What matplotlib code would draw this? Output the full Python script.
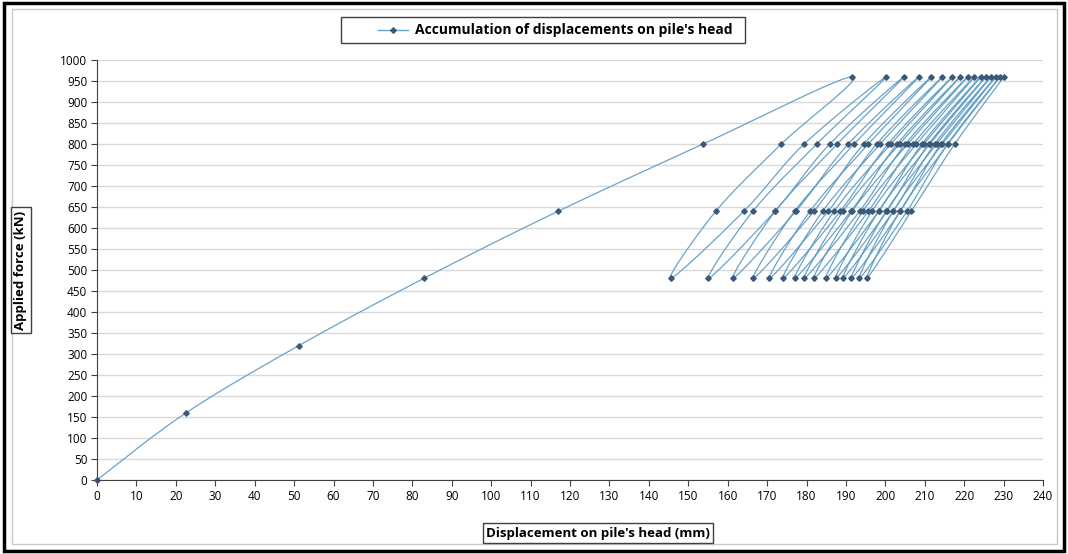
import matplotlib
matplotlib.use("Agg")
import matplotlib.pyplot as plt
from matplotlib.patches import Rectangle
import numpy as np

# initial loading (mm, kN)
load_disp = [0, 22.6, 51.2, 82.9, 117.0, 153.8, 191.6]
load_force = [0, 160, 320, 480, 640, 800, 960]

# cycles 960 -> 480 -> 960
peaks = [191.6, 200.2, 204.7, 208.5, 211.7, 214.5, 217.0, 219.0, 220.9, 222.6,
         224.2, 225.5, 226.8, 228.0, 229.1, 230.1]
valleys = [145.5, 155.1, 161.3, 166.5, 170.6, 174.0, 177.0, 179.4, 181.9, 184.9,
           187.4, 189.2, 191.4, 193.4, 195.3]
unload_800 = [173.6, 182.6, 187.8, 192.1, 195.7, 198.7, 201.4, 203.6, 205.7, 207.9,
              209.8, 211.3, 213.0, 214.5, 215.9]
unload_640 = [157.0, 166.4, 172.1, 177.0, 180.9, 184.1, 187.0, 189.3, 191.6, 194.3,
              196.6, 198.3, 200.2, 202.0, 203.7]
reload_640 = [164.1, 172.0, 177.3, 181.9, 185.5, 188.6, 191.3, 193.5, 195.7, 198.3,
              200.4, 202.0, 203.8, 205.5, 206.6]
reload_800 = [179.4, 185.9, 190.6, 194.5, 197.8, 200.7, 203.0, 205.1, 207.1, 209.3,
              211.0, 212.5, 214.1, 215.8, 217.6]

xs = list(load_disp)
ys = list(load_force)
for i in range(len(valleys)):
    xs += [unload_800[i], unload_640[i], valleys[i], reload_640[i], reload_800[i], peaks[i + 1]]
    ys += [800, 640, 480, 640, 800, 960]

line_col = "#6aa3c8"
mark_col = "#3b5878"

fig = plt.figure(figsize=(10.68, 5.54), dpi=100)
fig.patches.append(Rectangle((0.004, 0.006), 0.992, 0.988, transform=fig.transFigure,
                             fill=False, edgecolor="black", linewidth=2.5))
fig.patches.append(Rectangle((0.011, 0.018), 0.979, 0.966, transform=fig.transFigure,
                             fill=False, edgecolor="#c8c8c8", linewidth=1))

ax = fig.add_axes([97 / 1068, 1 - 480 / 554, 946 / 1068, 420 / 554])
ax.set_xlim(0, 240)
ax.set_ylim(0, 1000)
ax.set_xticks(np.arange(0, 241, 10))
ax.set_yticks(np.arange(0, 1001, 50))
ax.yaxis.grid(True, color="#d9d9d9", linewidth=1)
ax.set_axisbelow(True)
for s in ["top", "right"]:
    ax.spines[s].set_visible(False)
for s in ["left", "bottom"]:
    ax.spines[s].set_color("#404040")
ax.tick_params(direction="out", length=4, color="#404040", labelsize=8.5, pad=3)
for lab in ax.get_xticklabels() + ax.get_yticklabels():
    lab.set_family("Open Sans")

# smoothed line like Excel (Catmull-Rom in screen space)
pts = ax.transData.transform(np.column_stack([xs, ys]))
n = len(pts)
curve = [pts[0]]
for k in range(n - 1):
    p0 = pts[k - 1] if k > 0 else pts[k]
    p1 = pts[k]
    p2 = pts[k + 1]
    p3 = pts[k + 2] if k + 2 < n else pts[k + 1]
    c1 = p1 + (p2 - p0) / 6
    c2 = p2 - (p3 - p1) / 6
    t = np.linspace(0, 1, 25)[1:, None]
    seg = (1 - t) ** 3 * p1 + 3 * (1 - t) ** 2 * t * c1 + 3 * (1 - t) * t ** 2 * c2 + t ** 3 * p2
    curve.extend(seg)
curve = ax.transData.inverted().transform(np.array(curve))
ax.plot(curve[:, 0], curve[:, 1], color=line_col, linewidth=0.9, clip_on=False)
ax.plot(xs, ys, linestyle="none", marker="D", markersize=2.8, color=mark_col, clip_on=False)

# axis titles in boxes
box = dict(boxstyle="square,pad=0.25", facecolor="white", edgecolor="#404040", linewidth=1)
fig.text(598 / 1068, 1 - 533 / 554, "Displacement on pile's head (mm)", ha="center", va="center",
         fontsize=9.5, fontweight="bold", family="Open Sans", bbox=box)
fig.text(21 / 1068, 1 - 270 / 554, "Applied force (kN)", ha="center", va="center", rotation=90,
         fontsize=9.5, fontweight="bold", family="Open Sans", bbox=box)

# legend
fig.patches.append(Rectangle((341 / 1068, 1 - 43 / 554), 404 / 1068, 26 / 554,
                             transform=fig.transFigure, fill=False, edgecolor="#404040", linewidth=1))
fig.lines.append(plt.Line2D([378 / 1068, 408 / 1068], [1 - 30 / 554, 1 - 30 / 554],
                            transform=fig.transFigure, color=line_col, linewidth=1))
fig.lines.append(plt.Line2D([393 / 1068], [1 - 30 / 554], transform=fig.transFigure,
                            marker="D", markersize=2.8, color=mark_col, linestyle="none"))
fig.text(415 / 1068, 1 - 30 / 554, "Accumulation of displacements on pile's head", ha="left", va="center",
         fontsize=10, fontweight="bold", family="Open Sans")

fig.savefig("out.png", dpi=100)
